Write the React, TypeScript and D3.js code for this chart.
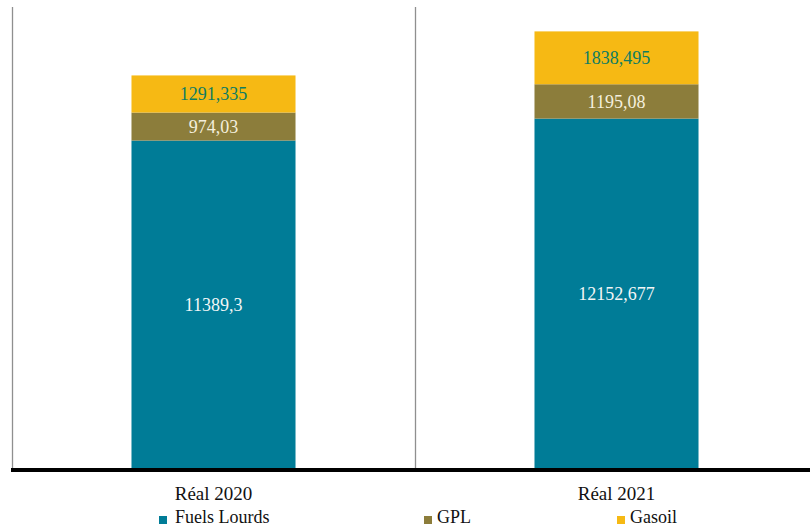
import React from "react";
import * as d3 from "d3";

const categories = ["Réal 2020", "Réal 2021"];
const seriesNames = ["Fuels Lourds", "GPL", "Gasoil"];
const fuelsLourds = [11389.3, 12152.677];
const gpl = [974.03, 1195.08];
const gasoil = [1291.335, 1838.495];
const labelTexts = [
  ["11389,3", "12152,677"],
  ["974,03", "1195,08"],
  ["1291,335", "1838,495"],
];

const W = 810;
const H = 531;
const FONT = "'Liberation Serif'";

const colors = ["#007C97", "#8C7D3B", "#F6B914"];
const labelColors = ["#F2F6F6", "#F4EFDD", "#0E7C62"];

export default function App() {
  const x = d3
    .scaleBand<string>()
    .domain(categories)
    .range([12, 818])
    .paddingInner(0.593)
    .paddingOuter(0.2965);
  const zone = d3.scaleBand<string>().domain(categories).range([12, 818]).padding(0);
  const y = d3.scaleLinear().domain([0, 16000]).range([468, 8]);

  const table = categories.map((c, i) => ({
    cat: c,
    "Fuels Lourds": fuelsLourds[i],
    GPL: gpl[i],
    Gasoil: gasoil[i],
  }));
  const stacked = d3.stack<any>().keys(seriesNames)(table);

  const legendSq = [159, 424, 617];
  const legendTx = [175, 437, 630];
  const ts = { fontFamily: FONT };

  return (
    <svg
      width={W}
      height={H}
      style={{ position: "absolute", left: 0, top: 0, background: "#fff", fontFamily: FONT }}
    >
      <rect x={0} y={0} width={W} height={H} fill="#fff" />
      {stacked.map((s, si) => (
        <g key={s.key}>
          {s.map((d, i) => (
            <rect
              key={i}
              x={x(categories[i])}
              width={x.bandwidth()}
              y={y(d[1])}
              height={y(d[0]) - y(d[1])}
              fill={colors[si]}
            />
          ))}
        </g>
      ))}
      {stacked.map((s, si) => (
        <g key={"l" + s.key}>
          {s.map((d, i) => (
            <text
              key={i}
              x={(x(categories[i]) as number) + x.bandwidth() / 2}
              y={(y(d[0]) + y(d[1])) / 2}
              dy="0.35em"
              textAnchor="middle"
              fontSize={18}
              fill={labelColors[si]}
              style={ts}
            >
              {labelTexts[si][i]}
            </text>
          ))}
        </g>
      ))}
      {[zone(categories[0]) as number, zone(categories[1]) as number].map((xx, i) => (
        <line key={i} x1={xx + 0.5} x2={xx + 0.5} y1={7} y2={468} stroke="#8f8f8f" strokeWidth={1.3} />
      ))}
      <line x1={11} x2={W} y1={y(0) + 2} y2={y(0) + 2} stroke="#000" strokeWidth={4} />
      {categories.map((c) => (
        <text
          key={c}
          x={(zone(c) as number) + zone.bandwidth() / 2}
          y={500}
          textAnchor="middle"
          fontSize={19}
          fill="#111"
          style={ts}
        >
          {c}
        </text>
      ))}
      {seriesNames.map((n, i) => (
        <g key={n}>
          <rect x={legendSq[i]} y={516} width={8} height={8} fill={colors[i]} />
          <text x={legendTx[i]} y={523} fontSize={18} fill="#111" style={ts}>
            {n}
          </text>
        </g>
      ))}
    </svg>
  );
}
